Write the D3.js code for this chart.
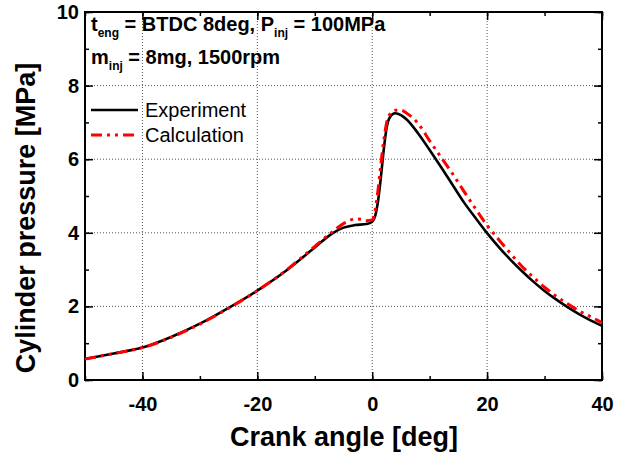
<!DOCTYPE html>
<html>
<head>
<meta charset="utf-8">
<script src="https://cdn.jsdelivr.net/npm/d3@7"></script>
<style>
  body { margin: 0; background: #fff; }
  svg { display: block; font-family: "Liberation Sans", Arial, sans-serif; }
</style>
</head>
<body>
<div id="chart"></div>
<script>
// Crank angle [deg] and cylinder pressure [MPa].
const expAngle = [-50, -45, -40, -35, -30, -25, -20, -15, -10, -7, -5, -3, -1, 0, 0.5, 1, 1.5, 2, 2.5, 3, 4, 5, 6, 8, 10, 12, 14, 16, 18, 20, 22, 24, 26, 28, 30, 32, 34, 36, 38, 40];
const expPressure = [0.57, 0.72, 0.88, 1.17, 1.53, 1.96, 2.43, 2.97, 3.6, 3.98, 4.14, 4.21, 4.24, 4.3, 4.45, 4.85, 5.5, 6.25, 6.85, 7.12, 7.25, 7.2, 7.08, 6.7, 6.25, 5.78, 5.3, 4.82, 4.4, 3.99, 3.62, 3.28, 2.97, 2.68, 2.42, 2.19, 1.98, 1.79, 1.62, 1.47];

const calcAngle = [-50, -45, -40, -35, -30, -25, -20, -15, -10, -7, -5, -4, -3, -2, -1, 0, 0.5, 1, 1.5, 2, 2.5, 3, 4, 5, 6, 8, 10, 12, 14, 16, 18, 20, 22, 24, 26, 28, 30, 32, 34, 36, 38, 40];
const calcPressure = [0.57, 0.72, 0.88, 1.16, 1.52, 1.95, 2.43, 2.98, 3.63, 4.02, 4.25, 4.33, 4.38, 4.37, 4.33, 4.35, 4.6, 5.15, 5.85, 6.5, 6.98, 7.2, 7.33, 7.33, 7.25, 6.97, 6.5, 6.05, 5.6, 5.12, 4.65, 4.2, 3.82, 3.45, 3.1, 2.8, 2.52, 2.28, 2.07, 1.88, 1.72, 1.56];

const xTicks = [-40, -20, 0, 20, 40];
const yTicks = [0, 2, 4, 6, 8, 10];
const seriesNames = ['Experiment', 'Calculation'];

const W = 624, H = 457;
const margin = {top: 12, right: 22, bottom: 77, left: 85};
const width = W - margin.left - margin.right;
const height = H - margin.top - margin.bottom;

const svg = d3.select('#chart').append('svg')
    .attr('width', W)
    .attr('height', H);
const g = svg.append('g')
    .attr('transform', `translate(${margin.left},${margin.top})`);

const x = d3.scaleLinear().domain([-50, 40]).range([0, width]);
const y = d3.scaleLinear().domain([0, 10]).range([height, 0]);

// Dotted grid at the major ticks.
g.append('g').selectAll('line')
    .data(xTicks.filter(d => d > -50 && d < 40))
    .join('line')
        .attr('x1', d => x(d)).attr('x2', d => x(d))
        .attr('y1', 0).attr('y2', height)
        .attr('stroke', '#555').attr('stroke-width', 1)
        .attr('stroke-dasharray', '1,2');
g.append('g').selectAll('line')
    .data(yTicks.filter(d => d > 0 && d < 10))
    .join('line')
        .attr('x1', 0).attr('x2', width)
        .attr('y1', d => y(d)).attr('y2', d => y(d))
        .attr('stroke', '#555').attr('stroke-width', 1)
        .attr('stroke-dasharray', '1,2');

// Axes with inward ticks, major and minor.
const xMinor = d3.range(-50, 41, 10);
const yMinor = d3.range(0, 11, 1);
const fmt = d => String(d); // plain hyphen, as in the original
const axisStyle = sel => {
    sel.select('.domain').remove();
    sel.selectAll('line').attr('stroke', '#000').attr('stroke-width', 1.5);
};

g.append('g').attr('transform', `translate(0,${height})`)
    .call(d3.axisBottom(x).tickValues(xMinor).tickSize(-4).tickFormat(''))
    .call(axisStyle);
g.append('g').attr('transform', `translate(0,${height})`)
    .call(d3.axisBottom(x).tickValues(xTicks).tickSize(-8).tickPadding(17).tickFormat(fmt))
    .call(axisStyle)
    .selectAll('text')
        .style('font-size', '20px').style('font-weight', 'bold').attr('fill', '#000');
g.append('g')
    .call(d3.axisTop(x).tickValues(xMinor).tickSize(-4).tickFormat(''))
    .call(axisStyle);
g.append('g')
    .call(d3.axisTop(x).tickValues(xTicks).tickSize(-8).tickFormat(''))
    .call(axisStyle);

g.append('g')
    .call(d3.axisLeft(y).tickValues(yMinor).tickSize(-4).tickFormat(''))
    .call(axisStyle);
g.append('g')
    .call(d3.axisLeft(y).tickValues(yTicks).tickSize(-8).tickPadding(6).tickFormat(fmt))
    .call(axisStyle)
    .selectAll('text')
        .style('font-size', '20px').style('font-weight', 'bold').attr('fill', '#000');
g.append('g').attr('transform', `translate(${width},0)`)
    .call(d3.axisRight(y).tickValues(yMinor).tickSize(-4).tickFormat(''))
    .call(axisStyle);
g.append('g').attr('transform', `translate(${width},0)`)
    .call(d3.axisRight(y).tickValues(yTicks).tickSize(-8).tickFormat(''))
    .call(axisStyle);

// Frame.
g.append('rect')
    .attr('width', width).attr('height', height)
    .attr('fill', 'none').attr('stroke', '#000').attr('stroke-width', 2);

// Curves.
const line = d3.line()
    .x(d => x(d[0]))
    .y(d => y(d[1]))
    .curve(d3.curveMonotoneX);

const calcData = calcAngle.map((a, i) => [a, calcPressure[i]]);
const expData = expAngle.map((a, i) => [a, expPressure[i]]);

g.append('path')
    .datum(expData)
    .attr('d', line)
    .attr('fill', 'none').attr('stroke', '#000').attr('stroke-width', 2.6);
g.append('path')
    .datum(calcData)
    .attr('d', line)
    .attr('fill', 'none').attr('stroke', '#f00').attr('stroke-width', 3)
    .attr('stroke-dasharray', '11,5,3,5,3,5');

// Conditions text.
const info = g.append('g').style('font-weight', 'bold').style('font-size', '20px');
const t1 = info.append('text').attr('x', 6).attr('y', 19);
t1.append('tspan').text('t');
t1.append('tspan').attr('dy', 6).style('font-size', '12px').text('eng');
t1.append('tspan').attr('dy', -6).text(' = BTDC 8deg, P');
t1.append('tspan').attr('dy', 6).style('font-size', '12px').text('inj');
t1.append('tspan').attr('dy', -6).text(' = 100MPa');
const t2 = info.append('text').attr('x', 6).attr('y', 52);
t2.append('tspan').text('m');
t2.append('tspan').attr('dy', 6).style('font-size', '12px').text('inj');
t2.append('tspan').attr('dy', -6).text(' = 8mg, 1500rpm');

// Legend.
const legend = g.append('g').attr('transform', 'translate(6,98)');
seriesNames.forEach((name, i) => {
    const row = legend.append('g').attr('transform', `translate(0,${i * 25})`);
    row.append('line')
        .attr('x1', 0).attr('x2', 47)
        .attr('stroke', i === 0 ? '#000' : '#f00')
        .attr('stroke-width', i === 0 ? 2.6 : 3)
        .attr('stroke-dasharray', i === 0 ? null : '11,5,3,5,3,5');
    row.append('text')
        .attr('x', 54).attr('y', 7)
        .style('font-size', '20px')
        .text(name);
});

// Axis titles.
svg.append('text')
    .attr('x', 344).attr('y', 446)
    .attr('text-anchor', 'middle')
    .style('font-size', '27px').style('font-weight', 'bold')
    .text('Crank angle [deg]');
svg.append('text')
    .attr('transform', 'translate(35,218) rotate(-90)')
    .attr('text-anchor', 'middle')
    .style('font-size', '27px').style('font-weight', 'bold')
    .text('Cylinder pressure [MPa]');
</script>
</body>
</html>
